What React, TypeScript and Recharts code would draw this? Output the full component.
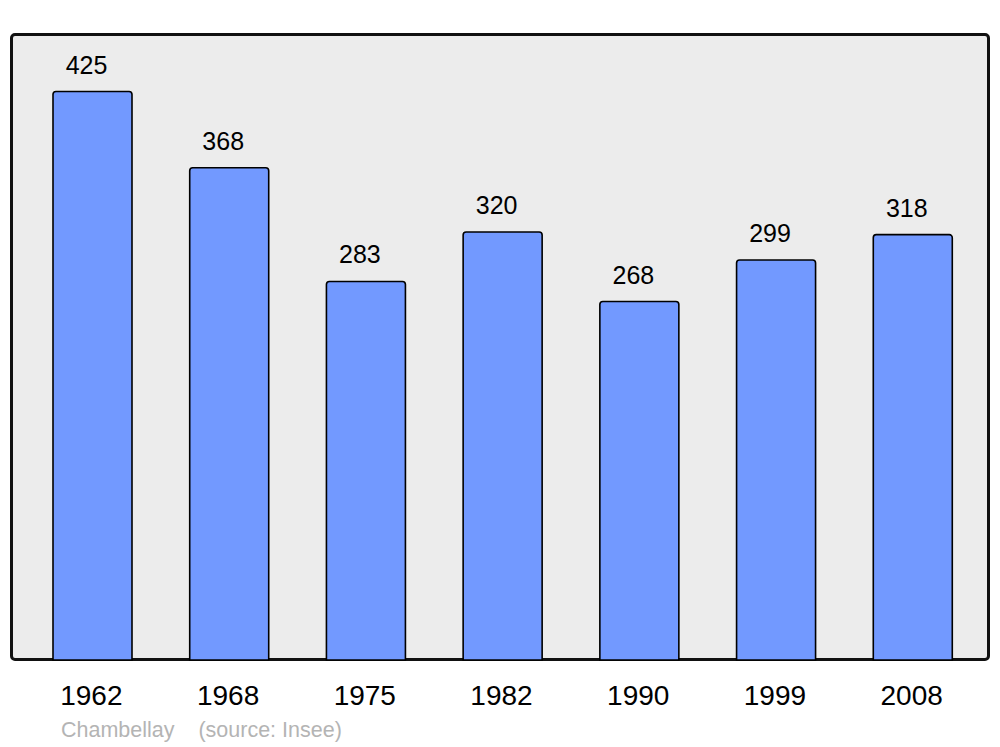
import React from "react";
import { BarChart, Bar, XAxis, YAxis, LabelList } from "recharts";

const years = ["1962", "1968", "1975", "1982", "1990", "1999", "2008"];
const population = [425, 368, 283, 320, 268, 299, 318];
const commune = "Chambellay";
const source = "(source: Insee)";

const data = years.map((y, i) => ({ year: y, pop: population[i] }));

const FONT = "'Liberation Sans', Arial, sans-serif";

export default function App() {
  return (
    <div style={{ position: "absolute", left: 0, top: 0, width: 1000, height: 747, background: "#fff", fontFamily: FONT }}>
      <div
        style={{
          position: "absolute",
          left: 10,
          top: 33,
          width: 980,
          height: 628,
          boxSizing: "border-box",
          border: "3px solid #111",
          borderRadius: 5,
          background: "#ececec",
        }}
      />
      <div style={{ position: "absolute", left: 0, top: 0 }}>
        <BarChart
          width={1000}
          height={747}
          data={data}
          margin={{ top: 34, right: 11, bottom: 0, left: 11 }}
          barCategoryGap={0}
        >
          <XAxis
            dataKey="year"
            height={87}
            axisLine={false}
            tickLine={false}
            tickSize={0}
            tickMargin={25}
            padding={{ left: 13, right: 8 }}
            tick={{ fontSize: 28, fill: "#000", fontFamily: FONT, dx: -1 }}
            interval={0}
          />
          <YAxis hide domain={[0, 468]} />
          <Bar
            dataKey="pop"
            fill="#7299ff"
            stroke="#000"
            strokeWidth={1.6}
            barSize={79}
            radius={[3, 3, 0, 0]}
            isAnimationActive={false}
          >
            <LabelList
              dataKey="pop"
              position="top"
              offset={18}
              dx={-6}
              style={{ fontSize: 25, fill: "#000", fontFamily: FONT }}
            />
          </Bar>
        </BarChart>
      </div>
      <div
        style={{
          position: "absolute",
          left: 61,
          top: 717,
          fontSize: 21.5,
          color: "#b4b4b4",
          whiteSpace: "pre",
          fontFamily: FONT,
          lineHeight: "26px",
        }}
      >
        {commune + "    " + source}
      </div>
    </div>
  );
}
